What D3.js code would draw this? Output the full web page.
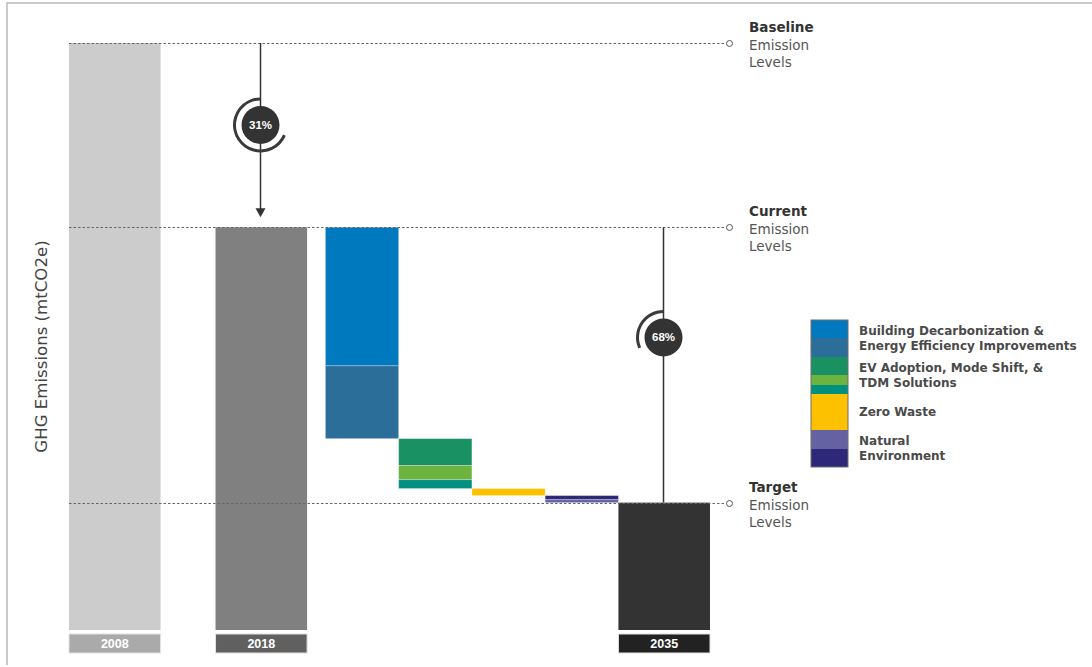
<!DOCTYPE html>
<html>
<head>
<meta charset="utf-8">
<script src="https://cdn.jsdelivr.net/npm/d3@7"></script>
<style>
  body { margin: 0; background: #fff; }
  svg { display: block; font-family: 'DejaVu Sans', Verdana, sans-serif; }
</style>
</head>
<body>
<div class="chart"></div>
<script>
// -------------------------------------------------------------------------
// Data (emissions indexed to 2008 baseline = 100)

const years = ['2008', '2018', '2035'];
const yearEmissions = [100, 68.6, 21.7];
const levelTitles = ['Baseline', 'Current', 'Target'];

const strategyGroups = ['Buildings', 'Transportation', 'Waste', 'Natural Environment'];
const segmentNames = [
  'Building Decarbonization', 'Energy Efficiency Improvements',
  'EV Adoption', 'Mode Shift', 'TDM Solutions',
  'Zero Waste',
  'Natural Environment (sequestration)', 'Natural Environment (canopy)'
];
const segmentGroup = [0, 0, 1, 1, 1, 2, 3, 3];
const segmentValues = [23.6, 12.4, 4.6, 2.4, 1.5, 1.2, 0.7, 0.5];

const legendLabels = [
  ['Building Decarbonization &', 'Energy Efficiency Improvements'],
  ['EV Adoption, Mode Shift, &', 'TDM Solutions'],
  ['Zero Waste'],
  ['Natural', 'Environment']
];

// -------------------------------------------------------------------------
// Styles / layout

const segmentColors = ['#0079be', '#2b6e99', '#1a9163', '#6cb33f', '#00907f', '#fdc100', '#2e2878', '#6462a2'];
// legend shows the natural environment shades the other way round
const legendOrder = [0, 1, 2, 3, 4, 5, 7, 6];
const legendSwatch = [18, 19, 18, 10, 9, 36, 19, 18];
const barFill = ['#cccccc', '#808080', '#333333'];
const tagFill = ['#aaaaaa', '#606060', '#222222'];
const yearColumn = [[0, 5], [8, 13], [30, 35]];
const groupColumnStart = 14;
const groupColumnWidth = 4;
const badgeAt = [0.47, 0.4];
const arrowOn = [true, false];

const width = 1092;
const height = 667;

const svg = d3.select('.chart')
  .append('svg')
  .attr('width', width)
  .attr('height', height);

const x = d3.scaleLinear().domain([0, 35]).range([69, 710]);
const y = d3.scaleLinear().domain([0, 100]).range([630, 43]);

// frame
svg.append('path')
  .attr('d', `M7,665V3H${width}`)
  .attr('fill', 'none')
  .attr('stroke', '#b9b9b9')
  .attr('stroke-width', 1.5);

// y axis title
svg.append('text')
  .attr('transform', `translate(47,${(y(0) + y(100)) / 2 + 10}) rotate(-90)`)
  .attr('text-anchor', 'middle')
  .attr('font-size', 16.6)
  .attr('fill', '#444')
  .text('GHG Emissions (mtCO2e)');

// year bars
const yearGroup = svg.append('g').attr('id', 'year-bars');
years.forEach((year, i) => {
  const x0 = x(yearColumn[i][0]);
  const w = x(yearColumn[i][1]) - x0;
  yearGroup.append('rect')
    .attr('x', x0)
    .attr('y', y(yearEmissions[i]))
    .attr('width', w)
    .attr('height', y(0) - y(yearEmissions[i]))
    .attr('fill', barFill[i]);
  yearGroup.append('rect')
    .attr('x', x0)
    .attr('y', y(0) + 4)
    .attr('width', w)
    .attr('height', 19)
    .attr('fill', tagFill[i])
    .attr('stroke', '#e2e2e2')
    .attr('stroke-width', 1);
  yearGroup.append('text')
    .attr('x', x0 + w / 2)
    .attr('y', y(0) + 18)
    .attr('text-anchor', 'middle')
    .attr('font-family', 'Liberation Sans, Arial, sans-serif')
    .attr('font-weight', 'bold')
    .attr('font-size', 12.5)
    .attr('fill', '#fff')
    .text(year);
});

// waterfall of strategy reductions, from current level down to target
const waterfall = svg.append('g').attr('id', 'waterfall');
let level = yearEmissions[1];
segmentValues.forEach((v, i) => {
  const g = segmentGroup[i];
  waterfall.append('rect')
    .attr('class', `segment segment-${i}`)
    .attr('x', x(groupColumnStart + g * groupColumnWidth))
    .attr('y', y(level))
    .attr('width', x(groupColumnWidth) - x(0))
    .attr('height', y(level - v) - y(level))
    .attr('fill', segmentColors[i])
    .attr('stroke', 'rgba(255,255,255,0.35)')
    .attr('stroke-width', 0.8)
    .append('title').text(segmentNames[i]);
  level -= v;
});

// dashed reference levels + labels
const levels = svg.append('g').attr('id', 'levels');
yearEmissions.forEach((v, i) => {
  const ly = Math.round(y(v)) + 0.5;
  levels.append('line')
    .attr('x1', x(0))
    .attr('x2', 726)
    .attr('y1', ly)
    .attr('y2', ly)
    .attr('stroke', '#666')
    .attr('stroke-dasharray', '2.5,2');
  levels.append('circle')
    .attr('cx', 729.5)
    .attr('cy', ly)
    .attr('r', 3)
    .attr('fill', '#fff')
    .attr('stroke', '#555');
  const t = levels.append('text')
    .attr('x', 749)
    .attr('font-size', 13.5)
    .attr('fill', '#555');
  t.append('tspan').attr('x', 749).attr('y', ly - 12)
    .attr('font-weight', 'bold').attr('fill', '#333').text(levelTitles[i]);
  t.append('tspan').attr('x', 749).attr('y', ly + 6).text('Emission');
  t.append('tspan').attr('x', 749).attr('y', ly + 23).text('Levels');
});

// reduction markers
const arc = d3.arc().innerRadius(24.5).outerRadius(27.5);
const markers = svg.append('g').attr('id', 'reductions');
[[0, 1], [1, 2]].forEach(([from, to], i) => {
  const col = yearColumn[to];
  const cx = Math.round(x((col[0] + col[1]) / 2)) - 0.5;
  const y1 = y(yearEmissions[from]);
  const y2 = y(yearEmissions[to]);
  const tip = arrowOn[i] ? y2 - 10 : y2;
  markers.append('line')
    .attr('x1', cx).attr('x2', cx)
    .attr('y1', y1).attr('y2', arrowOn[i] ? tip - 8 : tip)
    .attr('stroke', '#333')
    .attr('stroke-width', 1.5);
  if (arrowOn[i]) {
    markers.append('path')
      .attr('d', `M${cx - 5},${tip - 9}L${cx + 5},${tip - 9}L${cx},${tip}Z`)
      .attr('fill', '#333');
  }
  const by = y1 + (tip - y1) * badgeAt[i];
  const remain = yearEmissions[to] / yearEmissions[from];
  markers.append('path')
    .attr('transform', `translate(${cx},${by})`)
    .attr('d', arc({ startAngle: 0, endAngle: -remain * 2 * Math.PI }))
    .attr('fill', '#3a3a3a');
  markers.append('circle')
    .attr('cx', cx).attr('cy', by).attr('r', 19)
    .attr('fill', '#333');
  markers.append('text')
    .attr('x', cx).attr('y', by + 4)
    .attr('text-anchor', 'middle')
    .attr('font-family', 'Liberation Sans, Arial, sans-serif')
    .attr('font-weight', 'bold')
    .attr('font-size', 11.5)
    .attr('fill', '#fff')
    .text(`${Math.round((1 - remain) * 100)}%`);
});

// legend
const legend = svg.append('g').attr('id', 'legend').attr('transform', 'translate(811,320)');
let ly = 0;
const groupTop = [];
const groupBottom = [];
legendOrder.forEach((s, k) => {
  const g = segmentGroup[s];
  if (groupTop[g] === undefined) groupTop[g] = ly;
  legend.append('rect')
    .attr('x', 0).attr('y', ly)
    .attr('width', 37).attr('height', legendSwatch[k])
    .attr('fill', segmentColors[s]);
  ly += legendSwatch[k];
  groupBottom[g] = ly;
});
legend.append('rect')
  .attr('x', 0).attr('y', 0)
  .attr('width', 37).attr('height', ly)
  .attr('fill', 'none')
  .attr('stroke', '#6f6f6f');
strategyGroups.forEach((name, g) => {
  const mid = (groupTop[g] + groupBottom[g]) / 2;
  const lines = legendLabels[g];
  const t = legend.append('text')
    .attr('font-size', 12)
    .attr('font-weight', 'bold')
    .attr('fill', '#4a4a4a');
  lines.forEach((line, j) => {
    t.append('tspan')
      .attr('x', 48)
      .attr('y', mid + 4 + (j - (lines.length - 1) / 2) * 15)
      .text(line);
  });
});
</script>
</body>
</html>
